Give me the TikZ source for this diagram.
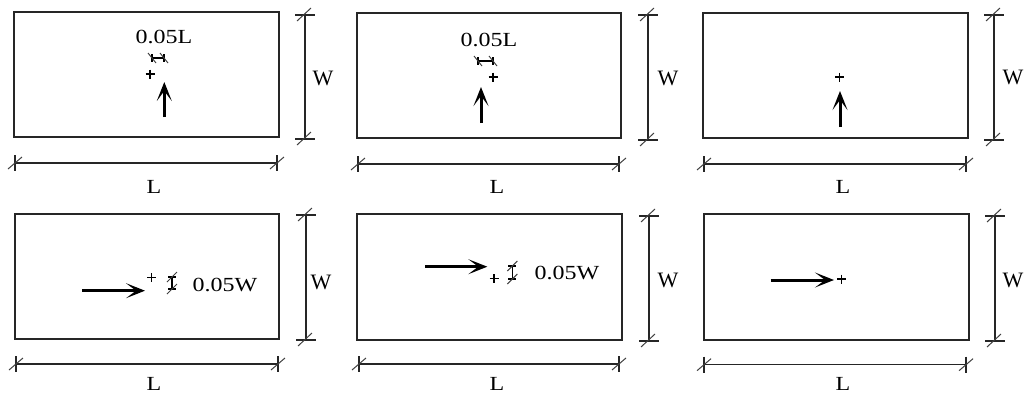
\documentclass[tikz,border=0pt]{standalone}
\usepackage{fontspec}
\setmainfont{Liberation Serif}
\usepackage{graphicx}
\usetikzlibrary{arrows.meta}
\newcommand\widetxt[1]{\scalebox{1.2}[1]{#1}}
\newcommand\hdim[3]{% y, x1, x2
  \draw[dimln] (#2,#1) -- (#3,#1);
  \foreach \xx in {#2,#3}{
    \draw[dimln] (\xx,#1) ++(0,-8) -- ++(0,16);
    \draw[slashln] (\xx,#1) ++(-7,6) -- ++(14,-12);
  }}
\newcommand\vdim[3]{% x, y1, y2
  \draw[dimln] (#1,#2) -- (#1,#3);
  \foreach \yy in {#2,#3}{
    \draw[dimln] (#1,\yy) ++(-10,0) -- ++(20,0);
    \draw[slashln] (#1,\yy) ++(-8,6) -- ++(14,-13);
  }}
\newcommand\sdimh[3]{% y, x1, x2
  \draw[sdimln] (#2,#1) -- (#3,#1);
  \foreach \xx in {#2,#3}{
    \draw[sdimln] (\xx,#1) ++(0,-4) -- ++(0,8);
    \draw[slashln] (\xx,#1) ++(-4,-5) -- ++(8,10);
  }}
\newcommand\sdimv[3]{% x, y1, y2
  \draw[sdimln] (#1,#2) -- (#1,#3);
  \foreach \yy in {#2,#3}{
    \draw[sdimln] (#1,\yy) ++(-4,0) -- ++(8,0);
    \draw[slashln] (#1,\yy) ++(-5,5) -- ++(10,-10);
  }}
\newcommand\plusmark[2]{%
  \draw[plusln] ({#1-4.5},#2) -- ({#1+4.5},#2) (#1,{#2-4.5}) -- (#1,{#2+4.5});}
\begin{document}
\begin{tikzpicture}[x=1pt,y=-1pt,
  plate/.style={draw=black!85,line width=1.6pt},
  dimln/.style={draw=black!85,line width=1.4pt},
  sdimln/.style={draw=black,line width=1.1pt},
  slashln/.style={draw=black!75,line width=1pt},
  plusln/.style={draw=black,line width=1.2pt},
  force/.style={line width=3pt,-{Stealth[length=19pt,width=15pt,inset=10pt,line width=1.4pt]}},
  lab/.style={inner sep=0pt,font=\fontsize{20}{24}\selectfont},
  wlab/.style={inner sep=0pt,font=\fontsize{22}{26}\selectfont}]
\useasboundingbox (0,0) rectangle (1026,397);
% ---------- panel 1 ----------
\draw[plate] (14,12) rectangle (279,137);
\vdim{305}{15}{139}
\hdim{163}{15}{277}
\node[wlab] (w1) at (323,78) {W};
\node[lab] (l1) at (154,187) {\widetxt{L}};
\node[lab] (t1) at (164,37) {\widetxt{0.05L}};
\sdimh{58}{152}{164}
\plusmark{150}{74}
\coordinate (a1s) at (164.3,117);
\coordinate (a1e) at (164.3,82);
\draw[force] (a1s) -- (a1e);
% ---------- panel 2 ----------
\draw[plate] (357,13) rectangle (621,138);
\vdim{648}{15}{140}
\hdim{164}{358}{619}
\node[wlab] (w2) at (668,78) {W};
\node[lab] (l2) at (497,187) {\widetxt{L}};
\node[lab] (t2) at (489,40) {\widetxt{0.05L}};
\sdimh{61}{478}{493}
\plusmark{493}{77}
\coordinate (a2s) at (481,123);
\coordinate (a2e) at (481,87);
\draw[force] (a2s) -- (a2e);
% ---------- panel 3 ----------
\draw[plate] (703,13) rectangle (968,138);
\vdim{994}{15}{140}
\hdim{164}{704}{966}
\node[wlab] (w3) at (1013,77) {W};
\node[lab] (l3) at (843,187) {\widetxt{L}};
\plusmark{839.5}{77}
\coordinate (a3s) at (840,127);
\coordinate (a3e) at (840,91);
\draw[force] (a3s) -- (a3e);
% ---------- panel 4 ----------
\draw[plate] (15,214) rectangle (279,339);
\vdim{306}{215}{340}
\hdim{364}{16}{278}
\node[wlab] (w4) at (321,282) {W};
\node[lab] (l4) at (154,384) {\widetxt{L}};
\node[lab] (t4) at (225,285) {\widetxt{0.05W}};
\sdimv{172}{277}{289}
\plusmark{151.7}{277.3}
\coordinate (a4s) at (82,290.7);
\coordinate (a4e) at (145,290.7);
\draw[force] (a4s) -- (a4e);
% ---------- panel 5 ----------
\draw[plate] (357,214) rectangle (622,340);
\vdim{649}{216}{341}
\hdim{364}{359}{619}
\node[wlab] (w5) at (668,280) {W};
\node[lab] (l5) at (497,384) {\widetxt{L}};
\node[lab] (t5) at (567,273) {\widetxt{0.05W}};
\sdimv{512.3}{266}{279}
\plusmark{494}{278.7}
\coordinate (a5s) at (425,266.7);
\coordinate (a5e) at (487.3,266.7);
\draw[force] (a5s) -- (a5e);
% ---------- panel 6 ----------
\draw[plate] (704,214) rectangle (969,340);
\vdim{995}{216}{341}
\hdim{364.7}{704}{966}
\node[wlab] (w6) at (1013,280) {W};
\node[lab] (l6) at (843,384) {\widetxt{L}};
\plusmark{841.7}{279}
\coordinate (a6s) at (770.7,280);
\coordinate (a6e) at (834,280);
\draw[force] (a6s) -- (a6e);
\end{tikzpicture}
\end{document}
